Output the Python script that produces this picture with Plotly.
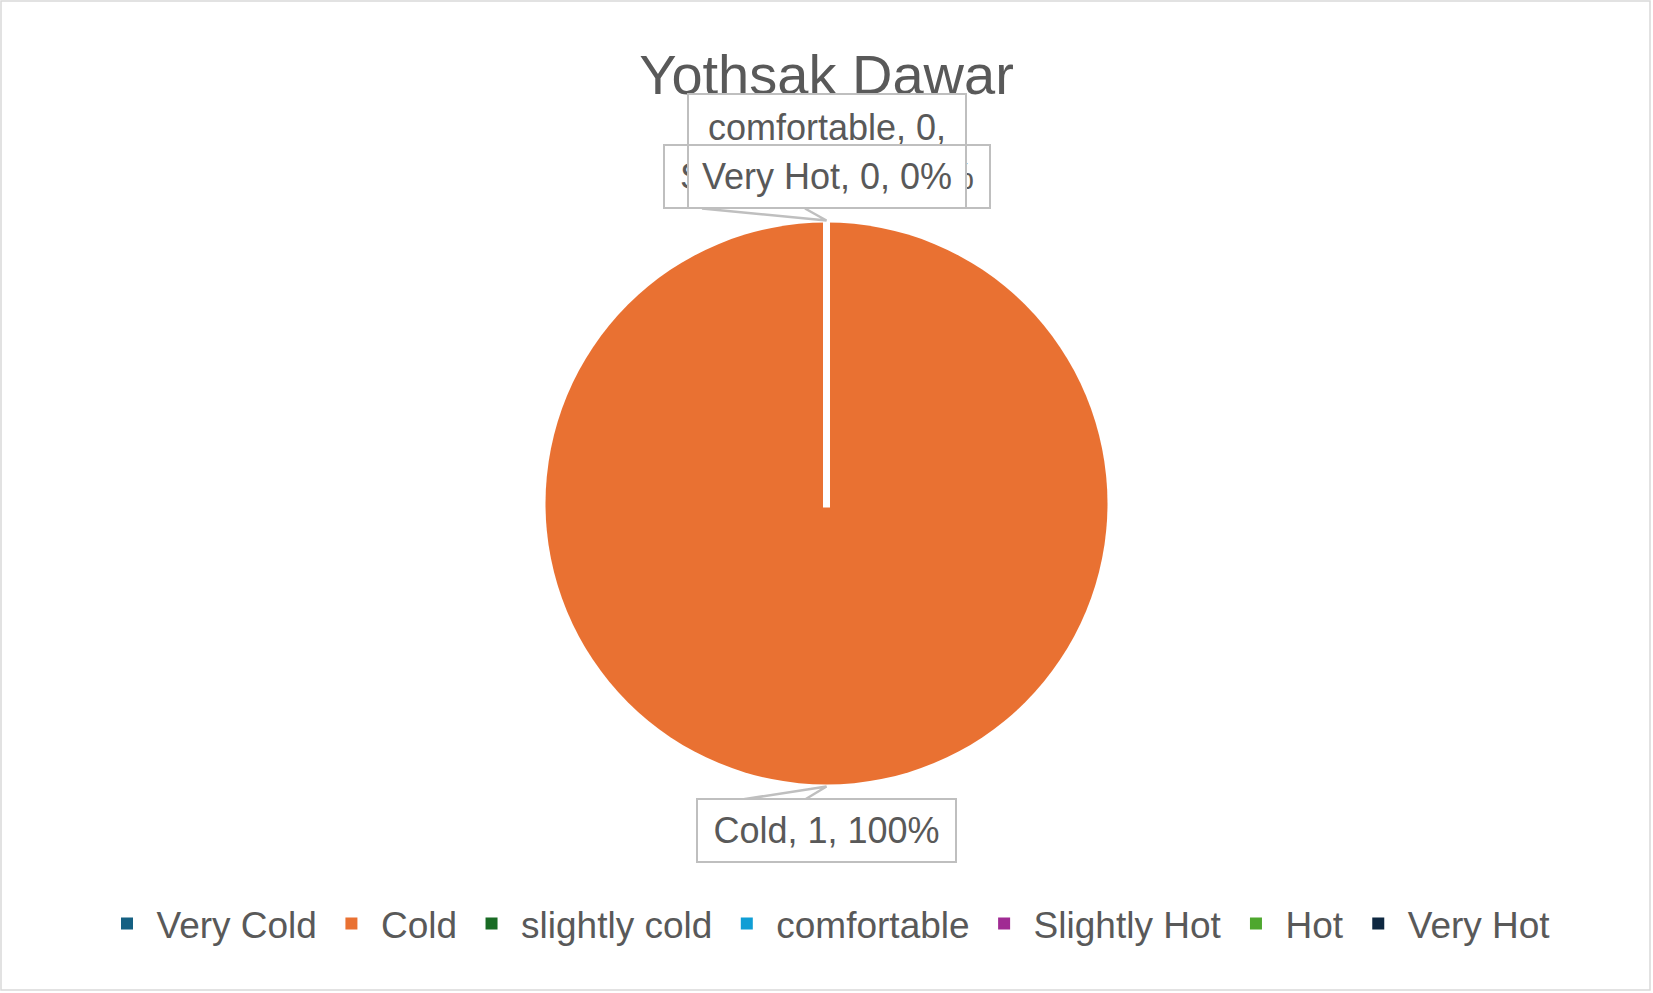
import plotly.graph_objects as go

W, H = 1653, 993

# ---- data ----
categories = ["Very Cold", "Cold", "slightly cold", "comfortable", "Slightly Hot", "Hot", "Very Hot"]
values = [0, 1, 0, 0, 0, 0, 0]
colors = ["#156082", "#E97132", "#196B24", "#0F9ED5", "#A02B93", "#4EA72E", "#0E2841"]
title_text = "Yothsak Dawar"

FONT = "Liberation Sans"
TXT = "#595959"
BOX = "#BFBFBF"

# ---- pie geometry (pixels) ----
cx, cy, r = 826.5, 503.5, 281.0

def px(x):
    return x / W

def py(y):
    return 1 - y / H

total = sum(values)
pcts = [round(100 * v / total) for v in values]

fig = go.Figure()
fig.add_trace(go.Pie(
    labels=categories,
    values=values,
    marker=dict(colors=colors, line=dict(width=0)),
    sort=False,
    direction="clockwise",
    rotation=0,
    textinfo="none",
    hoverinfo="label+value+percent",
    domain=dict(x=[0, 1], y=[py(cy + r), py(cy - r)]),
    showlegend=True,
))

# ---- label boxes (Excel-like data labels with callouts) ----
label_style = {
    "Very Cold": dict(w=276, h=61, side="top"),
    "slightly cold": dict(w=324, h=61, side="top"),
    "comfortable": dict(w=276, h=111, side="top_tall", wrap=True),
    "Slightly Hot": dict(w=324, h=61, side="top"),
    "Hot": dict(w=200, h=61, side="top"),
    "Very Hot": dict(w=276, h=61, side="top"),
    "Cold": dict(w=257, h=61, side="bottom"),
}
draw_order = ["Cold", "Very Cold", "slightly cold", "comfortable", "Slightly Hot", "Hot", "Very Hot"]

annotations = []
for name in draw_order:
    i = categories.index(name)
    st = label_style[name]
    if st.get("wrap"):
        text = f"{name}, {values[i]},<br>{pcts[i]}%"
    else:
        text = f"{name}, {values[i]}, {pcts[i]}%"
    if st["side"] == "bottom":
        yc = cy + r + 46
    elif st["side"] == "top_tall":
        yc = cy - r - 72
    else:
        yc = cy - r - 46.5
    annotations.append(dict(
        x=px(cx), y=py(yc), xref="paper", yref="paper",
        text=text, showarrow=False,
        font=dict(family=FONT, size=36, color=TXT),
        bgcolor="white", bordercolor=BOX, borderwidth=2, borderpad=0,
        width=st["w"], height=st["h"], align="center", valign="middle",
        xanchor="center", yanchor="middle",
    ))

shapes = []
# white slice border from center to top of pie
shapes.append(dict(type="line", xref="paper", yref="paper",
                   x0=px(cx), y0=py(cy + 4), x1=px(cx), y1=py(cy - r - 2),
                   line=dict(color="white", width=7), layer="above"))


def path(points):
    return "M " + " L ".join(f"{px(a):.5f},{py(b):.5f}" for a, b in points)

# callout to top of pie
top_pt = (cx, cy - r - 2)
shapes.append(dict(type="path", xref="paper", yref="paper",
                   path=path([(702, cy - r - 14), top_pt, (805, cy - r - 14)]),
                   line=dict(color=BOX, width=2.5)))
# callout to bottom of pie
bot_pt = (cx, cy + r + 2)
shapes.append(dict(type="path", xref="paper", yref="paper",
                   path=path([(742, cy + r + 15), bot_pt, (805, cy + r + 15)]),
                   line=dict(color=BOX, width=2.5)))
# chart border
shapes.append(dict(type="rect", xref="paper", yref="paper",
                   x0=px(1), y0=py(990), x1=px(1650), y1=py(1),
                   line=dict(color="#D9D9D9", width=1.5)))

fig.update_layout(
    width=W, height=H,
    margin=dict(l=0, r=0, t=0, b=0),
    paper_bgcolor="white", plot_bgcolor="white",
    title=dict(text=title_text, x=0.5, xanchor="center", xref="paper",
               y=py(74), yref="paper", yanchor="middle",
               font=dict(family=FONT, size=56, color=TXT)),
    legend=dict(orientation="h", x=0.5, xanchor="center", y=py(924), yanchor="middle",
                font=dict(family=FONT, size=37, color=TXT), itemwidth=49,
                bgcolor="rgba(0,0,0,0)"),
    annotations=annotations,
    shapes=shapes,
)

fig.write_html("out.html")
